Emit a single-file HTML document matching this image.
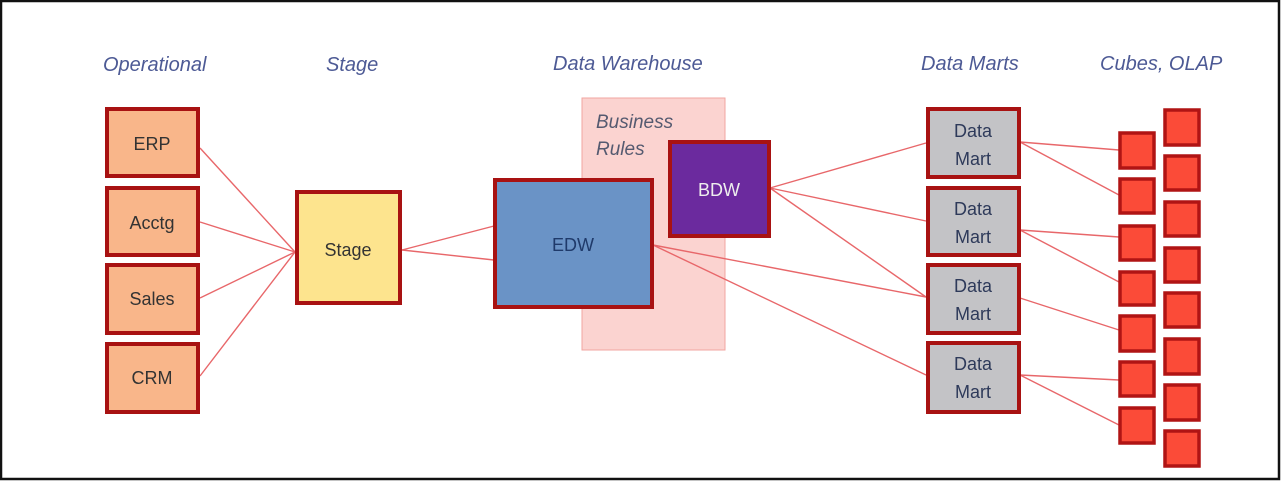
<!DOCTYPE html>
<html><head><meta charset="utf-8"><style>
html,body{margin:0;padding:0;background:#fff;}
svg{display:block;}
.h{font-family:"Liberation Sans",sans-serif;font-style:italic;font-size:20px;fill:#4d5a95;}
.b{font-family:"Liberation Sans",sans-serif;font-size:18px;fill:#333;text-anchor:middle;}
</style></head><body>
<svg width="1282" height="482" viewBox="0 0 1282 482" xmlns="http://www.w3.org/2000/svg">
<rect x="1" y="1" width="1278" height="478" fill="#fff" stroke="#111" stroke-width="2.5"/>
<text class="h" x="103" y="71">Operational</text>
<text class="h" x="326" y="71">Stage</text>
<text class="h" x="553" y="70">Data Warehouse</text>
<text class="h" x="921" y="70">Data Marts</text>
<text class="h" x="1100" y="70">Cubes, OLAP</text>

<rect x="582" y="98" width="143" height="252" fill="#fbd3d0" stroke="#f2a6a0" stroke-width="1"/>
<text x="596" y="128" style="font-family:'Liberation Sans',sans-serif;font-style:italic;font-size:19px;fill:#555a70">Business</text>
<text x="596" y="155" style="font-family:'Liberation Sans',sans-serif;font-style:italic;font-size:19px;fill:#555a70">Rules</text>

<g stroke="#e8676a" stroke-width="1.4" fill="none">
<line x1="200" y1="148" x2="295" y2="252"/>
<line x1="200" y1="222" x2="295" y2="252"/>
<line x1="200" y1="298" x2="295" y2="252"/>
<line x1="200" y1="376" x2="295" y2="252"/>
<line x1="402" y1="250" x2="494" y2="226"/>
<line x1="402" y1="250" x2="494" y2="260"/>
<line x1="770" y1="188" x2="926" y2="143"/>
<line x1="770" y1="188" x2="926" y2="221"/>
<line x1="770" y1="188" x2="926" y2="297"/>
<line x1="653" y1="245" x2="926" y2="297"/>
<line x1="653" y1="245" x2="926" y2="375"/>
<line x1="1020" y1="142" x2="1119" y2="150"/>
<line x1="1020" y1="142" x2="1119" y2="195"/>
<line x1="1020" y1="230" x2="1119" y2="237"/>
<line x1="1020" y1="230" x2="1119" y2="282"/>
<line x1="1020" y1="298" x2="1119" y2="330"/>
<line x1="1020" y1="375" x2="1119" y2="380"/>
<line x1="1020" y1="375" x2="1119" y2="425"/>
</g>

<g stroke="#a81212" stroke-width="4">
<rect x="107" y="109" width="91" height="67" fill="#f9b68a"/>
<rect x="107" y="188" width="91" height="67" fill="#f9b68a"/>
<rect x="107" y="265" width="91" height="68" fill="#f9b68a"/>
<rect x="107" y="344" width="91" height="68" fill="#f9b68a"/>
<rect x="297" y="192" width="103" height="111" fill="#fde48e"/>
<rect x="495" y="180" width="157" height="127" fill="#6a93c6"/>
<rect x="670" y="142" width="99" height="94" fill="#6b2a9e"/>
<rect x="928" y="109" width="91" height="68" fill="#c3c3c6"/>
<rect x="928" y="188" width="91" height="67" fill="#c3c3c6"/>
<rect x="928" y="265" width="91" height="68" fill="#c3c3c6"/>
<rect x="928" y="343" width="91" height="69" fill="#c3c3c6"/>
</g>
<g stroke="#b01414" stroke-width="3.5" fill="#fb4b38">
<rect x="1120" y="133" width="34" height="35"/>
<rect x="1120" y="179" width="34" height="34"/>
<rect x="1120" y="226" width="34" height="34"/>
<rect x="1120" y="272" width="34" height="33"/>
<rect x="1120" y="316" width="34" height="35"/>
<rect x="1120" y="362" width="34" height="34"/>
<rect x="1120" y="408" width="34" height="35"/>
<rect x="1165" y="110" width="34" height="35"/>
<rect x="1165" y="156" width="34" height="34"/>
<rect x="1165" y="202" width="34" height="34"/>
<rect x="1165" y="248" width="34" height="34"/>
<rect x="1165" y="293" width="34" height="34"/>
<rect x="1165" y="339" width="34" height="35"/>
<rect x="1165" y="385" width="34" height="35"/>
<rect x="1165" y="431" width="34" height="35"/>
</g>

<text class="b" x="152" y="150">ERP</text>
<text class="b" x="152" y="229">Acctg</text>
<text class="b" x="152" y="305">Sales</text>
<text class="b" x="152" y="384">CRM</text>
<text class="b" x="348" y="256">Stage</text>
<text class="b" x="573" y="251" style="fill:#1f3a6a">EDW</text>
<text class="b" x="719" y="196" style="fill:#eee">BDW</text>
<text class="b" x="973" y="137" style="fill:#2e3a5a">Data</text>
<text class="b" x="973" y="165" style="fill:#2e3a5a">Mart</text>
<text class="b" x="973" y="215" style="fill:#2e3a5a">Data</text>
<text class="b" x="973" y="243" style="fill:#2e3a5a">Mart</text>
<text class="b" x="973" y="292" style="fill:#2e3a5a">Data</text>
<text class="b" x="973" y="320" style="fill:#2e3a5a">Mart</text>
<text class="b" x="973" y="370" style="fill:#2e3a5a">Data</text>
<text class="b" x="973" y="398" style="fill:#2e3a5a">Mart</text>
</svg>
</body></html>
